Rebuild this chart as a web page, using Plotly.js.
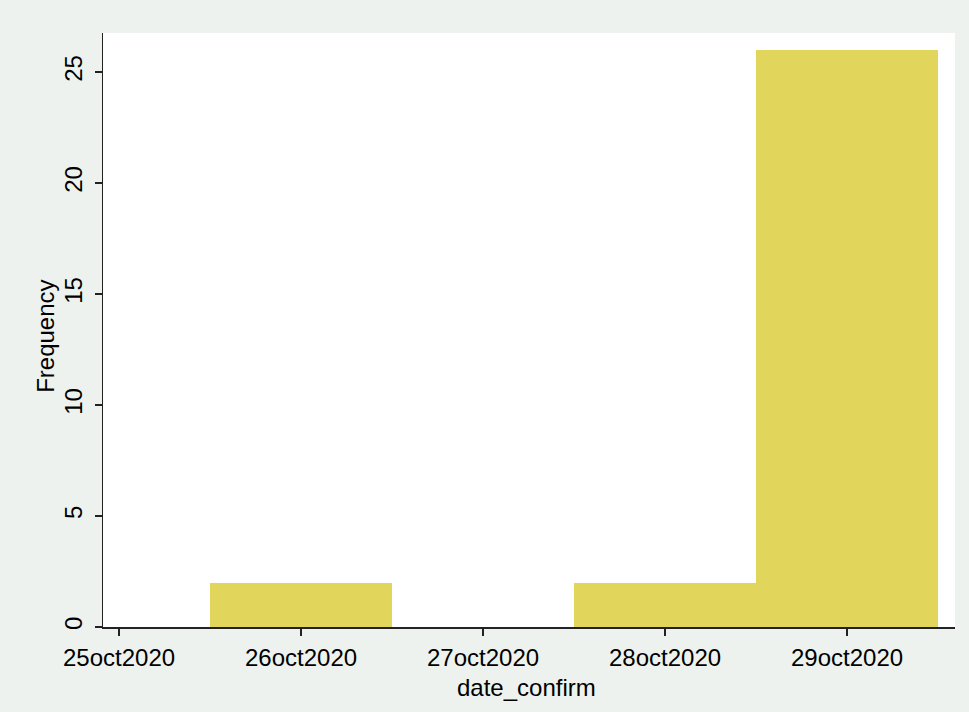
<!DOCTYPE html>
<html>
<head>
<meta charset="utf-8">
<script src="https://cdn.plot.ly/plotly-3.0.1.min.js"></script>
<style>html,body{margin:0;padding:0;background:#eef2ee;}#chart{width:969px;height:712px;}</style>
</head>
<body>
<div id="chart"></div>
<script>
var categories = ["25oct2020", "26oct2020", "27oct2020", "28oct2020", "29oct2020"];
var frequency = [0, 2, 0, 2, 26];
var yTicks = [0, 5, 10, 15, 20, 25];
var xTitle = "date_confirm";
var yTitle = "Frequency";

var positions = categories.map(function (c, i) { return i; });

var trace = {
  type: "bar",
  x: positions,
  y: frequency,
  width: 1,
  marker: { color: "#e2d55c", line: { width: 0 } },
  hoverinfo: "x+y"
};

var layout = {
  width: 969,
  height: 712,
  paper_bgcolor: "#eef2ee",
  plot_bgcolor: "#ffffff",
  margin: { l: 103, r: 14, t: 33, b: 85 },
  bargap: 0,
  showlegend: false,
  font: { family: "Liberation Sans, Arial, sans-serif", color: "#000000", size: 24 },
  xaxis: {
    range: [-0.088, 4.593],
    tickmode: "array",
    tickvals: positions,
    ticktext: categories,
    ticks: "outside",
    ticklen: 7,
    tickcolor: "#222222",
    tickwidth: 1.2,
    showline: true,
    linecolor: "#222222",
    linewidth: 1.5,
    showgrid: false,
    zeroline: false,
    tickfont: { size: 24 },
    ticklabelstandoff: 2
  },
  yaxis: {
    range: [0, 26.76],
    tickmode: "array",
    tickvals: yTicks,
    ticks: "outside",
    ticklen: 7,
    tickcolor: "#222222",
    tickwidth: 1.2,
    tickangle: -90,
    showline: true,
    linecolor: "#222222",
    linewidth: 1.5,
    showgrid: false,
    zeroline: false,
    tickfont: { size: 24 },
    ticklabelstandoff: 3
  },
  annotations: [
    { text: xTitle, xref: "paper", yref: "paper", x: 0.497, y: -0.077,
      xanchor: "center", yanchor: "top", borderpad: 0, showarrow: false, font: { size: 24 } },
    { text: yTitle, xref: "paper", yref: "paper", x: -0.067, y: 0.49, textangle: -90,
      xanchor: "center", yanchor: "middle", showarrow: false, font: { size: 24 } }
  ]
};

Plotly.newPlot("chart", [trace], layout, { displayModeBar: false, staticPlot: true });
</script>
</body>
</html>
